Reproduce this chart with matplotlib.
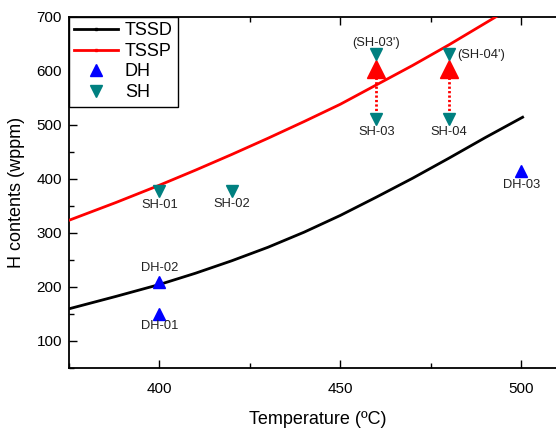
import matplotlib
matplotlib.use("Agg")
import matplotlib.pyplot as plt
from matplotlib.lines import Line2D

plt.rcParams['font.family'] = ['Liberation Sans', 'DejaVu Sans']

# TSSD / TSSP curves
tssd_T = [375, 388, 400, 410, 420, 430, 440, 450, 460, 470, 480, 490, 500.4]
tssd_H = [159, 182, 204, 225, 248, 273, 301, 332, 366, 401, 438, 476, 514]
tssp_T = [375, 388, 400, 410, 420, 430, 440, 450, 460, 470, 480, 490, 495]
tssp_H = [323, 356, 388, 416, 445, 475, 506, 538, 574, 610, 648, 688, 708]

# Data points
dh_T = [400, 400, 500]
dh_H = [209, 150, 415]
sh_T = [400, 420, 460, 480, 460, 480]
sh_H = [377, 377, 511, 511, 631, 631]
arrow_T = [460, 480]
arrow_from = [519, 519]
arrow_to = [604, 604]

fig = plt.figure(figsize=(5.56, 4.32), dpi=100)
# right edge of axes lies just outside the picture, as in the reference
ax = fig.add_axes([0.124, 0.149, 0.896, 0.812])

ax.plot(tssd_T, tssd_H, color='black', lw=2.0, zorder=3)
ax.plot(tssp_T, tssp_H, color='red', lw=2.0, zorder=3)

# dotted arrows
for t, a, b in zip(arrow_T, arrow_from, arrow_to):
    ax.plot([t, t], [a, b - 14], color='red', lw=2.0, ls=(0, (0.8, 0.8)), zorder=4)
ax.plot(arrow_T, arrow_to, ls='none', marker='^', ms=13, color='red', zorder=5)

ax.plot(dh_T, dh_H, ls='none', marker='^', ms=8, color='#0000FF', zorder=6)
ax.plot(sh_T, sh_H, ls='none', marker='v', ms=8, color='#008080', zorder=6)

pt = 72 / 100.0
def lab(x, y, s, dx, dy, ha='center'):
    ax.annotate(s, (x, y), xytext=(dx * pt, dy * pt), textcoords='offset points',
                ha=ha, va='center', fontsize=9.3, color='#222222', zorder=7)

lab(400, 209, "DH-02", 0, 14)
lab(400, 150, "DH-01", 0, -12)
lab(500, 415, "DH-03", 0, -14)
lab(400, 377, "SH-01", 0, -14)
lab(420, 377, "SH-02", 0, -13)
lab(460, 511, "SH-03", 0, -13)
lab(480, 511, "SH-04", 0, -13)
lab(460, 631, "(SH-03')", 0, 11)
lab(480, 631, "(SH-04')", 8, -1, ha='left')

ax.set_xlim(375, 512.7)
ax.set_ylim(65, 700)
ax.set_xticks([400, 450, 500])
ax.set_xticks([375, 425, 475], minor=True)
ax.set_yticks([100, 200, 300, 400, 500, 600, 700])
ax.set_yticks([50, 150, 250, 350, 450, 550, 650], minor=True)
ax.tick_params(which='major', direction='in', length=6, width=1, top=True, right=True, labelsize=11)
ax.tick_params(which='minor', direction='in', length=3.5, width=1, top=True, right=True)
ax.tick_params(axis='x', which='major', pad=10.5)
ax.tick_params(axis='y', which='major', pad=5)
for s in ax.spines.values():
    s.set_linewidth(1.3)

ax.set_xlabel("Temperature (\u00baC)", fontsize=13, labelpad=11)
ax.set_ylabel("H contents (wppm)", fontsize=13, labelpad=8)

handles = [
    Line2D([], [], color='black', lw=2.0, marker='s', ms=2),
    Line2D([], [], color='red', lw=2.0, marker='s', ms=2),
    Line2D([], [], ls='none', marker='^', ms=8, color='#0000FF'),
    Line2D([], [], ls='none', marker='v', ms=8, color='#008080'),
]
leg = ax.legend(handles, ["TSSD", "TSSP", "DH", "SH"], loc='upper left',
                bbox_to_anchor=(0, 1), borderaxespad=0, fontsize=13,
                fancybox=False, edgecolor='black', framealpha=1,
                handlelength=2.4, labelspacing=0.2, borderpad=0.3,
                handletextpad=0.4)
leg.get_frame().set_linewidth(1.0)

fig.savefig("out.png", dpi=100)
